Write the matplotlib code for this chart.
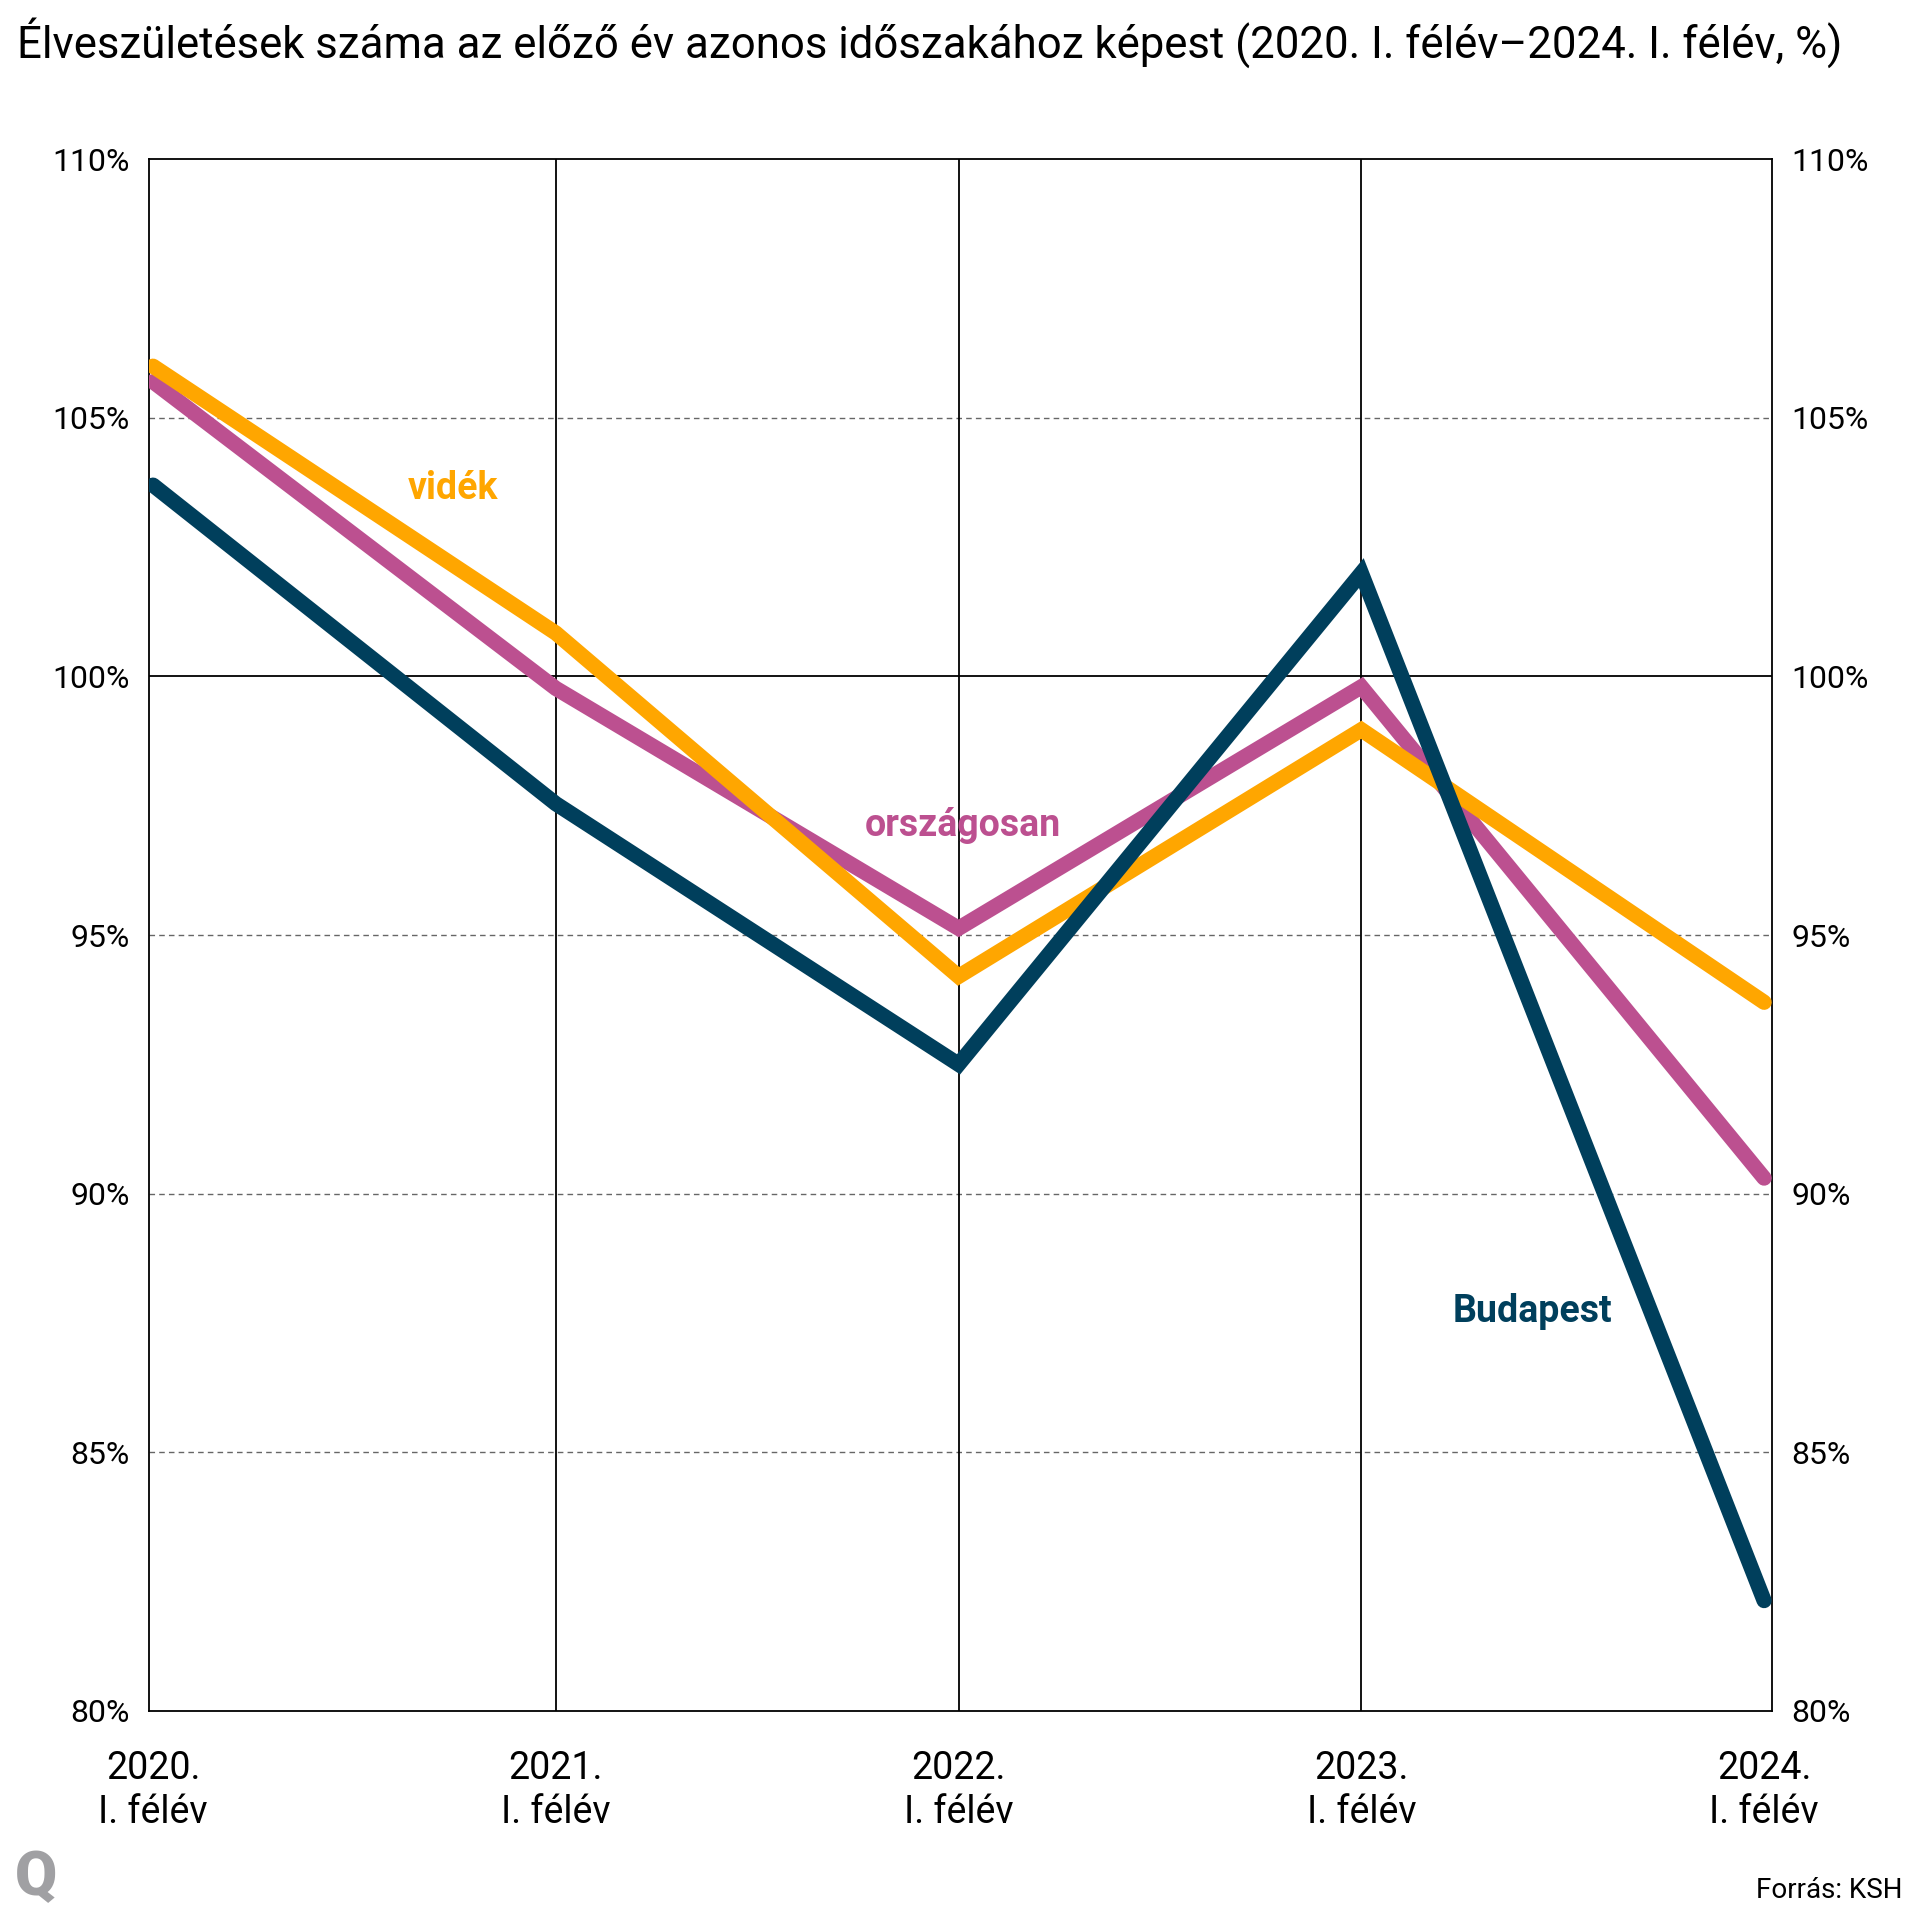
import matplotlib
matplotlib.use('Agg')
import matplotlib.pyplot as plt

plt.rcParams['font.family'] = ['Roboto', 'DejaVu Sans']

periods = ['2020.\nI. félév', '2021.\nI. félév', '2022.\nI. félév', '2023.\nI. félév', '2024.\nI. félév']
orszagosan = [105.7, 99.77, 95.13, 99.8, 90.3]
videk = [106.0, 100.84, 94.2, 98.97, 93.7]
budapest = [103.7, 97.54, 92.5, 102.0, 82.13]
yticks = [80, 85, 90, 95, 100, 105, 110]

c_orsz = '#bc5090'
c_videk = '#ffa600'
c_bp = '#003f5c'

fig = plt.figure(figsize=(19.2, 19.2), dpi=100)
ax = fig.add_axes([0.0776, 0.109, 0.8454, 0.808])

x = list(range(len(periods)))
ax.plot(x, orszagosan, color=c_orsz, lw=11, solid_capstyle='round', solid_joinstyle='miter', zorder=3)
ax.plot(x, videk, color=c_videk, lw=11, solid_capstyle='round', solid_joinstyle='miter', zorder=4)
ax.plot(x, budapest, color=c_bp, lw=11, solid_capstyle='round', solid_joinstyle='miter', zorder=5)

ax.set_xlim(-0.01, 4.02)
ax.set_ylim(80, 110)

# grid
for v in yticks[1:-1]:
    if v == 100:
        ax.axhline(v, color='black', lw=1.3, zorder=1)
    else:
        ax.axhline(v, color='#666666', lw=1, ls=(0, (4, 3)), zorder=1)
for i in x[1:-1]:
    ax.axvline(i, color='black', lw=1.3, zorder=1)

for s in ax.spines.values():
    s.set_linewidth(1.3)
    s.set_color('black')

ax.set_yticks(yticks)
ax.set_yticklabels([f'{v}%' for v in yticks])
ax.tick_params(axis='y', length=0, labelsize=23, pad=14, labelright=True, right=False)
ax.set_xticks(x)
ax.set_xticklabels(periods, linespacing=1.25)
ax.tick_params(axis='x', length=0, labelsize=27, pad=28)

# series labels
ax.text(0.745, 103.63, 'vidék', color=c_videk, fontsize=27, fontweight='bold', ha='center', va='center')
ax.text(2.01, 97.12, 'országosan', color=c_orsz, fontsize=27, fontweight='bold', ha='center', va='center')
ax.text(3.425, 87.72, 'Budapest', color=c_bp, fontsize=27, fontweight='bold', ha='center', va='center')

fig.text(0.009, 0.978, 'Élveszületések száma az előző év azonos időszakához képest (2020. I. félév\u20132024. I. félév, %)',
         fontsize=31.5, ha='left', va='center')
fig.text(0.008, 0.022, 'Q', fontsize=44, fontweight='black', color='#a0a0a3', ha='left', va='center')
fig.text(0.991, 0.0155, 'Forrás: KSH', fontsize=20, ha='right', va='center')

fig.savefig('out.png', dpi=100, facecolor='white')
